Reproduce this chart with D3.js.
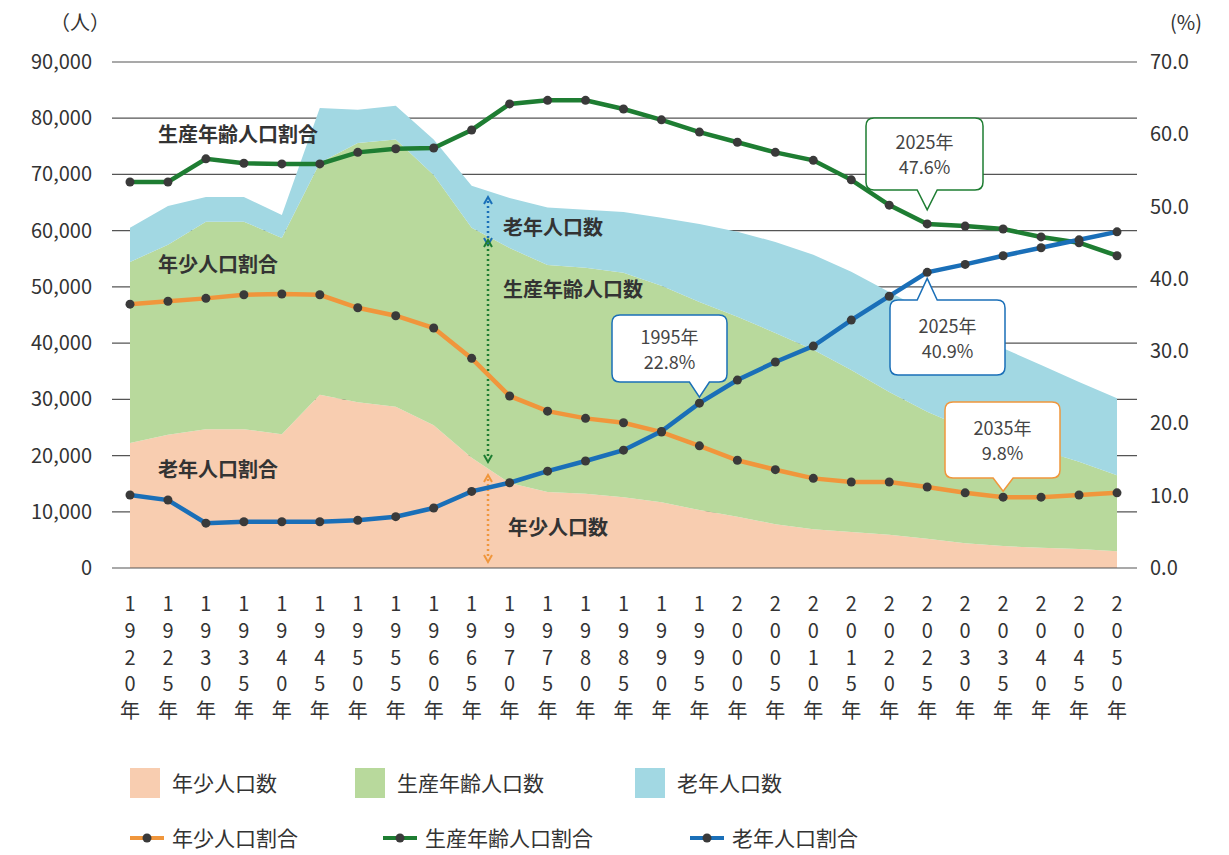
<!DOCTYPE html>
<html><head><meta charset="utf-8">
<script src="https://cdn.jsdelivr.net/npm/d3@7"></script>
<style>
body{margin:0;background:#fff;font-family:"Noto Sans CJK JP","Noto Sans",sans-serif;}
</style></head><body>
<svg id="c" width="1229" height="855"></svg>
<script>
const years = d3.range(1920, 2051, 5);
const young = [22240,23700,24700,24700,23800,30800,29500,28700,25400,19600,15100,13500,13200,12600,11700,10300,9100,7800,6900,6400,5900,5200,4400,3900,3600,3400,3000];
const working = [32200,33800,36900,36900,34900,41300,46100,47500,44500,40900,41800,40400,40200,39900,38500,37000,35600,34000,31900,28800,25400,22600,20500,18900,17400,15500,13500];
const old = [6100,6900,4400,4400,4100,9700,5900,6000,6300,7500,8900,10200,10300,10800,12100,13900,15100,16200,16900,17500,17800,17800,17400,16300,15100,14200,13700];
const youngPct = [36.5,36.9,37.3,37.8,37.9,37.8,36.0,34.9,33.2,29.0,23.8,21.7,20.7,20.1,18.8,16.9,14.9,13.6,12.4,11.9,11.9,11.2,10.4,9.8,9.8,10.1,10.4];
const workingPct = [53.4,53.4,56.6,56.0,55.9,55.9,57.5,58.0,58.1,60.6,64.2,64.7,64.7,63.5,62.0,60.3,58.9,57.5,56.4,53.7,50.2,47.6,47.3,46.9,45.8,45.0,43.2];
const oldPct = [10.1,9.4,6.2,6.4,6.4,6.4,6.6,7.1,8.3,10.6,11.8,13.4,14.8,16.3,18.9,22.8,26.0,28.5,30.7,34.3,37.6,40.9,42.0,43.2,44.3,45.4,46.5];
const leftTicks = d3.range(0, 90001, 10000);
const rightTicks = d3.range(0, 71, 10);

const svg = d3.select("#c");
const x = d3.scaleLinear().domain([1920, 2050]).range([130, 1117]);
const yL = d3.scaleLinear().domain([0, 90000]).range([568, 62]);
const yR = d3.scaleLinear().domain([0, 70]).range([568, 62]);

// gridlines
svg.append("g").selectAll("line").data(leftTicks.slice(1)).join("line")
  .attr("x1", 112).attr("x2", 1137).attr("y1", d => yL(d)).attr("y2", d => yL(d))
  .attr("stroke", "#555").attr("stroke-width", 1.2);

// stacked areas
const rows = years.map((yr, i) => ({yr, young: young[i], working: working[i], old: old[i]}));
const stack = d3.stack().keys(["young", "working", "old"])(rows);
const areaCol = {young: "#f8cdb0", working: "#b8d99c", old: "#a2d8e3"};
const area = d3.area().x(d => x(d.data.yr)).y0(d => yL(d[0])).y1(d => yL(d[1]));
svg.append("g").selectAll("path").data(stack).join("path")
  .attr("d", area).attr("fill", d => areaCol[d.key]);

// baseline
svg.append("line").attr("x1", 112).attr("x2", 1137).attr("y1", yL(0)).attr("y2", yL(0))
  .attr("stroke", "#555").attr("stroke-width", 1.2);

// axes labels
const tf = d3.format(",");
svg.append("g").selectAll("text").data(leftTicks).join("text")
  .attr("x", 92).attr("y", d => yL(d) + 7).attr("text-anchor", "end")
  .attr("font-size", 20).attr("fill", "#333").text(d => tf(d));
svg.append("g").selectAll("text").data(rightTicks).join("text")
  .attr("x", 1150).attr("y", d => yR(d) + 7)
  .attr("font-size", 20).attr("fill", "#333").text(d => d.toFixed(1));
svg.append("text").attr("x", 50).attr("y", 30).attr("font-size", 20).attr("fill", "#333").text("（人）");
svg.append("text").attr("x", 1170).attr("y", 30).attr("font-size", 20).attr("fill", "#333").text("(%)");

// x labels vertical
const xl = svg.append("g");
years.forEach(yr => {
  const chars = (yr + "年").split("");
  chars.forEach((c, j) => {
    xl.append("text").attr("x", x(yr)).attr("y", 611 + j * 26.8)
      .attr("text-anchor", "middle").attr("font-size", 20).attr("fill", "#333").text(c);
  });
});

// dotted arrows
function darrow(xp, y1, y2, col) {
  svg.append("line").attr("x1", xp).attr("x2", xp).attr("y1", y1 + 4).attr("y2", y2 - 4)
    .attr("stroke", col).attr("stroke-width", 2.5).attr("stroke-dasharray", "2,3");
  svg.append("path").attr("d", `M${xp-4},${y1+7}L${xp},${y1}L${xp+4},${y1+7}`).attr("fill", "none").attr("stroke", col).attr("stroke-width", 2);
  svg.append("path").attr("d", `M${xp-4},${y2-7}L${xp},${y2}L${xp+4},${y2-7}`).attr("fill", "none").attr("stroke", col).attr("stroke-width", 2);
}
darrow(488, 197, 245, "#1a6fb8");
darrow(488, 240, 462, "#1e7d32");
darrow(488, 475, 562, "#f0963c");

// lines
const series = [
  {v: youngPct, col: "#f0963c"},
  {v: workingPct, col: "#1e7d32"},
  {v: oldPct, col: "#1a6fb8"}
];
const line = d3.line().x((d, i) => x(years[i])).y(d => yR(d));
series.forEach(s => {
  svg.append("path").attr("d", line(s.v)).attr("fill", "none").attr("stroke", s.col).attr("stroke-width", 4.5);
  svg.append("g").selectAll("circle").data(s.v).join("circle")
    .attr("cx", (d, i) => x(years[i])).attr("cy", d => yR(d)).attr("r", 4.5).attr("fill", "#3a3a3a");
});

// text labels
const labs = [
  ["生産年齢人口割合", 158, 142], ["年少人口割合", 158, 272], ["老年人口割合", 158, 477],
  ["老年人口数", 503, 235], ["生産年齢人口数", 503, 297], ["年少人口数", 508, 535]
];
labs.forEach(l => svg.append("text").attr("x", l[1]).attr("y", l[2]).attr("font-size", 20)
  .attr("font-weight", "bold").attr("fill", "#333").text(l[0]));

// callouts
function callout(bx, by, bw, bh, px, py, col, t1, t2, up) {
  const cx = px, r = 8;
  let p;
  if (!up) {
    p = `M${bx+r},${by}H${bx+bw-r}Q${bx+bw},${by} ${bx+bw},${by+r}V${by+bh-r}Q${bx+bw},${by+bh} ${bx+bw-r},${by+bh}`
      + `H${cx+10}L${px},${py}L${cx-10},${by+bh}H${bx+r}Q${bx},${by+bh} ${bx},${by+bh-r}V${by+r}Q${bx},${by} ${bx+r},${by}Z`;
  } else {
    p = `M${bx+r},${by}H${cx-10}L${px},${py}L${cx+10},${by}H${bx+bw-r}Q${bx+bw},${by} ${bx+bw},${by+r}V${by+bh-r}Q${bx+bw},${by+bh} ${bx+bw-r},${by+bh}`
      + `H${bx+r}Q${bx},${by+bh} ${bx},${by+bh-r}V${by+r}Q${bx},${by} ${bx+r},${by}Z`;
  }
  svg.append("path").attr("d", p).attr("fill", "#fff").attr("stroke", col).attr("stroke-width", 1.5);
  svg.append("text").attr("x", bx + bw / 2).attr("y", by + bh / 2 - 5).attr("text-anchor", "middle")
    .attr("font-size", 18).attr("fill", "#444").text(t1);
  svg.append("text").attr("x", bx + bw / 2).attr("y", by + bh / 2 + 20).attr("text-anchor", "middle")
    .attr("font-size", 18).attr("fill", "#444").text(t2);
}
callout(612, 315, 115, 67, x(1995), yR(oldPct[15]) - 6, "#1a6fb8", "1995年", "22.8%", false);
callout(866, 118, 117, 72, x(2025), yR(workingPct[21]) - 14, "#1e7d32", "2025年", "47.6%", false);
callout(890, 300, 115, 75, x(2025), yR(oldPct[21]) + 6, "#1a6fb8", "2025年", "40.9%", true);
callout(945, 402, 115, 76, x(2035), yR(youngPct[23]) - 6, "#f0963c", "2035年", "9.8%", false);

// legend
const lg = svg.append("g");
[["年少人口数", "#f8cdb0", 130], ["生産年齢人口数", "#b8d99c", 355], ["老年人口数", "#a2d8e3", 635]].forEach(d => {
  lg.append("rect").attr("x", d[2]).attr("y", 768).attr("width", 30).attr("height", 30).attr("fill", d[1]);
  lg.append("text").attr("x", d[2] + 42).attr("y", 791).attr("font-size", 21).attr("fill", "#333").text(d[0]);
});
[["年少人口割合", "#f0963c", 130], ["生産年齢人口割合", "#1e7d32", 383], ["老年人口割合", "#1a6fb8", 690]].forEach(d => {
  lg.append("line").attr("x1", d[2]).attr("x2", d[2] + 34).attr("y1", 838).attr("y2", 838).attr("stroke", d[1]).attr("stroke-width", 4);
  lg.append("circle").attr("cx", d[2] + 17).attr("cy", 838).attr("r", 4.5).attr("fill", "#3a3a3a");
  lg.append("text").attr("x", d[2] + 42).attr("y", 846).attr("font-size", 21).attr("fill", "#333").text(d[0]);
});
</script></body></html>
